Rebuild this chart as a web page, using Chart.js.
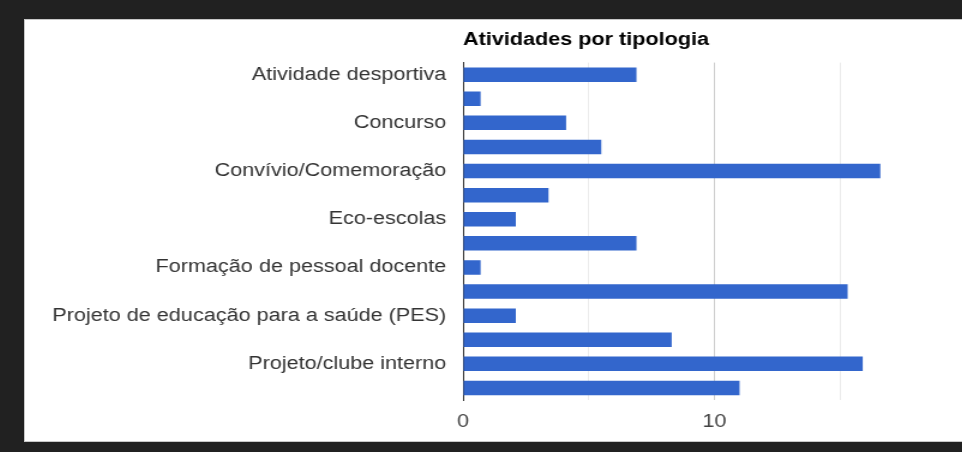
<!DOCTYPE html>
<html>
<head>
<meta charset="utf-8">
<title>Atividades por tipologia</title>
<script src="https://cdn.jsdelivr.net/npm/chart.js@4"></script>
<style>
  body {
    margin: 0;
    background: #212121;
    overflow: hidden;
  }
  #painel {
    position: absolute;
    left: 24px;
    top: 19px;
    width: 960px;
    height: 421px;
    background: #fff;
    border: 1px solid #c8c8c8;
    overflow: hidden;
  }
  /* a captura original está esticada na horizontal */
  #caixa {
    position: absolute;
    left: 0;
    top: 0;
    width: 795px;
    height: 421px;
    transform: scaleX(1.2);
    transform-origin: 0 0;
  }
</style>
</head>
<body>
<div id="painel">
  <div id="caixa">
    <canvas id="myChart" width="795" height="421"></canvas>
  </div>
</div>
<script>
const titulo = "Atividades por tipologia";

const tipologias = [
  "Atividade desportiva",
  "Clube",
  "Concurso",
  "Conferência/Palestra",
  "Convívio/Comemoração",
  "Desporto escolar",
  "Eco-escolas",
  "Exposição",
  "Formação de pessoal docente",
  "Parceria",
  "Projeto de educação para a saúde (PES)",
  "Projeto nacional",
  "Projeto/clube interno",
  "Visita de estudo"
];

const atividades = [6.9, 0.7, 4.1, 5.5, 16.6, 3.4, 2.1, 6.9, 0.7, 15.3, 2.1, 8.3, 15.9, 11.0];

const ticksValor = [0, 10];

const fonte = "Arial, 'Liberation Sans', sans-serif";
const ctx = document.getElementById('myChart');

new Chart(ctx, {
  type: 'bar',
  data: {
    labels: tipologias,
    datasets: [{
      label: 'Atividades',
      data: atividades,
      backgroundColor: "#3366cc",
      borderWidth: 0,
      barPercentage: 0.6,
      categoryPercentage: 1
    }]
  },
  options: {
    indexAxis: 'y',
    responsive: false,
    animation: false,
    layout: {
      padding: { left: 0, right: 10, top: 0, bottom: 0 }
    },
    plugins: {
      legend: { display: false },
      title: {
        display: true,
        text: titulo,
        align: 'start',
        fullSize: false,
        color: "#000",
        font: { family: fonte, size: 18, weight: 'bold' },
        padding: { top: 9, bottom: 12 }
      }
    },
    scales: {
      x: {
        min: 0,
        max: 20,
        ticks: {
          stepSize: 5,
          padding: 11,
          color: "#444",
          font: { family: fonte, size: 18 },
          callback: function (value) {
            return ticksValor.includes(value) ? value : '';
          }
        },
        grid: {
          drawTicks: false,
          color: function (c) {
            if (c.tick.value === 0) return 'rgba(0,0,0,0)';
            return c.tick.value % 10 === 0 ? "#cccccc" : "#ebebeb";
          }
        },
        border: { display: false },
        afterFit: function (scale) { scale.height = 41; }
      },
      y: {
        ticks: {
          autoSkip: false,
          padding: 14,
          color: "#333",
          font: { family: fonte, size: 18 },
          callback: function (value, index) {
            return index % 2 === 0 ? this.getLabelForValue(value) : '';
          }
        },
        grid: { display: false, drawTicks: false },
        border: { display: true, color: "#333", width: 1 },
        afterFit: function (scale) { scale.width = 365; }
      }
    }
  }
});
</script>
</body>
</html>
